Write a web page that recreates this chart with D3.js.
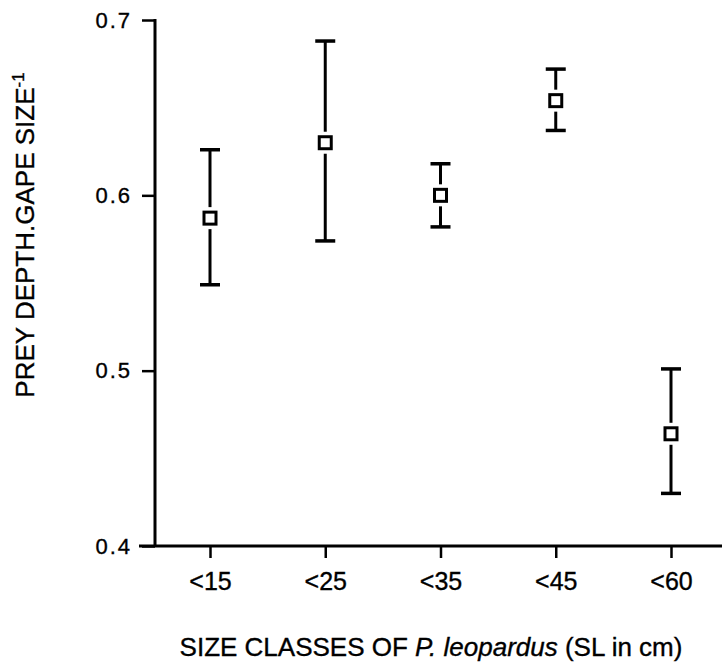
<!DOCTYPE html>
<html>
<head>
<meta charset="utf-8">
<script src="https://cdn.jsdelivr.net/npm/d3@7"></script>
<style>
  body { margin: 0; background: #fff; }
  text { font-family: "Liberation Sans", Arial, Helvetica, sans-serif; fill: #000; stroke: #000; stroke-width: 0.35px; }
</style>
</head>
<body>
<div class="chart"></div>
<script>
// size classes and their values (mean with upper / lower bars)
var classes = ["<15", "<25", "<35", "<45", "<60"];
var means   = [0.587, 0.630, 0.600, 0.654, 0.464];
var uppers  = [0.626, 0.688, 0.618, 0.672, 0.501];
var lowers  = [0.549, 0.574, 0.582, 0.637, 0.430];
var yTicks  = [0.4, 0.5, 0.6, 0.7];

var W = 725, H = 664;
var svg = d3.select(".chart").append("svg")
    .attr("width", W)
    .attr("height", H);

// scales
var x = d3.scalePoint().domain(classes).range([210, 671]);
var y = d3.scaleLinear().domain([0.4, 0.7]).range([546, 20]);

var data = classes.map(function(c, i) {
  return {cls: c, mean: means[i], hi: uppers[i], lo: lowers[i]};
});

// Y axis
var yAxis = svg.append("g")
    .attr("transform", "translate(155,0)")
    .call(d3.axisLeft(y).tickValues(yTicks).tickFormat(d3.format(".1f"))
      .tickSize(13).tickSizeOuter(0).tickPadding(10));
yAxis.select(".domain").remove();
yAxis.selectAll(".tick line").attr("stroke", "#000").attr("stroke-width", 2.5);
yAxis.selectAll(".tick text")
    .style("font-size", "22px")
    .style("letter-spacing", "2px");
yAxis.append("line")
    .attr("x1", 0).attr("x2", 0)
    .attr("y1", y(0.7) - 1).attr("y2", y(0.4))
    .attr("stroke", "#000").attr("stroke-width", 3);

// X axis
var xAxis = svg.append("g")
    .attr("transform", "translate(0," + y(0.4) + ")")
    .call(d3.axisBottom(x).tickSize(12).tickSizeOuter(0).tickPadding(14));
xAxis.select(".domain").remove();
xAxis.selectAll(".tick line").attr("stroke", "#000").attr("stroke-width", 2.5);
xAxis.selectAll(".tick text").style("font-size", "25px");
xAxis.append("line")
    .attr("x1", 139).attr("x2", 722)
    .attr("y1", 0).attr("y2", 0)
    .attr("stroke", "#000").attr("stroke-width", 3);

// error bars
var bars = svg.append("g").selectAll("g")
    .data(data).enter().append("g");

bars.append("line")
    .attr("x1", function(d) { return x(d.cls); })
    .attr("x2", function(d) { return x(d.cls); })
    .attr("y1", function(d) { return y(d.hi); })
    .attr("y2", function(d) { return y(d.lo); })
    .attr("stroke", "#000").attr("stroke-width", 3);

bars.selectAll(".cap")
    .data(function(d) { return [d.hi, d.lo].map(function(v) { return {cls: d.cls, v: v}; }); })
    .enter().append("line")
    .attr("class", "cap")
    .attr("x1", function(d) { return x(d.cls) - 10; })
    .attr("x2", function(d) { return x(d.cls) + 10; })
    .attr("y1", function(d) { return y(d.v); })
    .attr("y2", function(d) { return y(d.v); })
    .attr("stroke", "#000").attr("stroke-width", 3.5);

// white halo so the bar looks broken around the marker
bars.append("rect")
    .attr("x", function(d) { return x(d.cls) - 11; })
    .attr("y", function(d) { return y(d.mean) - 11; })
    .attr("width", 22).attr("height", 22)
    .attr("fill", "#fff");

bars.append("rect")
    .attr("x", function(d) { return x(d.cls) - 6; })
    .attr("y", function(d) { return y(d.mean) - 6; })
    .attr("width", 12).attr("height", 12)
    .attr("fill", "#fff")
    .attr("stroke", "#000").attr("stroke-width", 3);

// axis titles
var xt = svg.append("text")
    .attr("x", 431).attr("y", 656)
    .attr("text-anchor", "middle")
    .style("font-size", "26px");
xt.append("tspan").text("SIZE CLASSES OF ");
xt.append("tspan").style("font-style", "italic").text("P. leopardus");
xt.append("tspan").text(" (SL in cm)");

var yt = svg.append("text")
    .attr("transform", "translate(34,235) rotate(-90)")
    .attr("text-anchor", "middle")
    .style("font-size", "26px");
yt.append("tspan").text("PREY DEPTH.GAPE SIZE");
yt.append("tspan").attr("dy", -10).style("font-size", "17px").text("-1");
</script>
</body>
</html>
